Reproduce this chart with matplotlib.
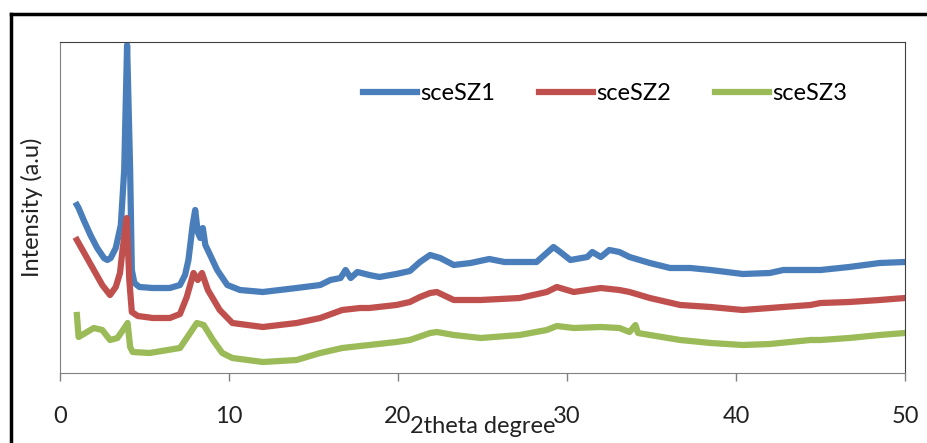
import matplotlib
matplotlib.use('Agg')
import matplotlib.pyplot as plt
from matplotlib.lines import Line2D

plt.rcParams['font.family'] = ['Lato', 'DejaVu Sans']

# XRD patterns (intensity in arbitrary units)
sz1_theta = [1.0, 1.1, 1.4, 1.8, 2.2, 2.6, 2.8, 3.0, 3.3, 3.6, 3.8, 3.97, 4.15, 4.25,
             4.4, 4.7, 5.5, 6.5, 7.1, 7.4, 7.6, 7.85, 8.0, 8.15, 8.3, 8.45, 8.6, 8.8, 9.3,
             9.9, 10.65, 12.0, 14.0, 15.4, 16.0, 16.6, 16.9, 17.2, 17.6, 18.3, 18.9, 19.9, 20.7, 21.3,
             21.9, 22.5, 23.3, 24.3, 25.4, 26.3, 27.2, 28.2, 28.8, 29.2, 29.6, 30.2, 31.2, 31.5, 32.0,
             32.5, 33.1, 33.7, 34.9, 36.1, 37.3, 38.5, 40.4, 42.0, 42.8, 44.4, 45.0, 46.7, 48.5, 50.0]
sz1_int = [168, 165, 153, 138, 125, 115, 113, 115, 125, 148, 203, 328, 203, 103,
           90, 86, 85, 85, 88, 98, 113, 148, 163, 141, 135, 145, 128, 121, 103,
           88, 83, 81, 85, 88, 93, 95, 103, 95, 101, 98, 96, 99, 102, 111,
           118, 115, 108, 110, 114, 111, 111, 111, 120, 126, 121, 113, 116, 121, 116,
           123, 121, 116, 110, 105, 105, 103, 99, 100, 103, 103, 103, 106, 110, 111]

sz2_theta = [1.0, 1.5, 2.0, 2.5, 2.96, 3.3, 3.55, 3.7, 3.95, 4.1, 4.25, 4.6, 5.5, 6.5, 7.1,
             7.5, 7.9, 8.15, 8.4, 8.75, 9.45, 10.2, 12.0, 14.0, 15.4, 16.7, 17.75, 18.3, 19.9, 20.7,
             21.3, 21.9, 22.3, 23.3, 24.9, 27.2, 28.8, 29.4, 30.4, 32.0, 33.1, 33.7, 34.9, 36.7, 38.5,
             40.4, 42.0, 44.4, 45.0, 46.7, 48.5, 50.0]
sz2_int = [133, 118, 103, 88, 78, 86, 100, 123, 155, 93, 61, 57, 55, 55, 59,
           76, 100, 93, 100, 83, 63, 50, 46, 50, 55, 63, 65, 65, 68, 71,
           76, 80, 81, 73, 73, 75, 81, 86, 81, 85, 83, 81, 75, 68, 66,
           63, 65, 68, 70, 71, 73, 75]

sz3_theta = [1.0, 1.1, 1.6, 2.0, 2.5, 2.96, 3.4, 3.85, 4.0, 4.15, 4.3, 5.3, 7.1, 7.5, 8.1,
             8.5, 9.05, 9.6, 10.2, 12.0, 14.0, 15.4, 16.7, 18.3, 19.9, 20.7, 21.9, 22.3, 23.3, 24.9,
             27.2, 28.8, 29.4, 30.4, 32.0, 33.1, 33.7, 34.05, 34.2, 34.9, 36.7, 38.5, 40.4, 42.0, 44.4,
             45.0, 46.7, 48.5, 50.0]
sz3_int = [58, 36, 41, 45, 43, 33, 35, 46, 50, 26, 21, 20, 25, 35, 50,
           48, 33, 20, 15, 11, 13, 20, 25, 28, 31, 33, 40, 41, 38, 35,
           38, 43, 47, 45, 46, 45, 41, 48, 40, 38, 33, 30, 28, 29, 33,
           33, 35, 38, 40]

labels = ['sceSZ1', 'sceSZ2', 'sceSZ3']
colors = ['#4a7ebb', '#c0504d', '#9bbb59']
x_ticks = [0, 10, 20, 30, 40, 50]

fig = plt.figure(figsize=(9.28, 4.43), dpi=100)
ax = fig.add_axes([60 / 928, 1 - 373 / 443, 845 / 928, 331 / 443])

ax.plot(sz1_theta, sz1_int, color=colors[0], lw=4.5, label=labels[0], solid_joinstyle='round')
ax.plot(sz2_theta, sz2_int, color=colors[1], lw=4.5, label=labels[1], solid_joinstyle='round')
ax.plot(sz3_theta, sz3_int, color=colors[2], lw=4.5, label=labels[2], solid_joinstyle='round')

ax.set_xlim(0, 50)
ax.set_ylim(0, 331)
ax.set_xticks(x_ticks)
ax.set_yticks([])
ax.tick_params(axis='x', direction='out', length=6, width=1, color='#808080',
               labelsize=17, pad=18, labelcolor='#222222')

for side in ['left', 'bottom']:
    ax.spines[side].set_color('#808080')
for side in ['top', 'right']:
    ax.spines[side].set_color('#404040')

ax.set_xlabel('2theta degree', fontsize=17, color='#222222', va='center')
ax.xaxis.set_label_coords(0.5, -0.163)
ax.set_ylabel('Intensity (a.u)', fontsize=17, color='#222222', va='center')
ax.yaxis.set_label_coords(-28 / 845, 0.5)

ax.legend(loc='center', bbox_to_anchor=(0.645, 0.843), ncol=3, frameon=False,
          fontsize=17, handlelength=2.3, handletextpad=0.13, columnspacing=1.85)

# outer black frame (only left and top edges visible)
fx = 11.5 / 928
fy = 1 - 13.5 / 443
fig.add_artist(Line2D([fx, fx], [0, fy], color='black', lw=2.5, transform=fig.transFigure))
fig.add_artist(Line2D([fx, 1], [fy, fy], color='black', lw=2.5, transform=fig.transFigure))

fig.savefig('out.png', dpi=100)
